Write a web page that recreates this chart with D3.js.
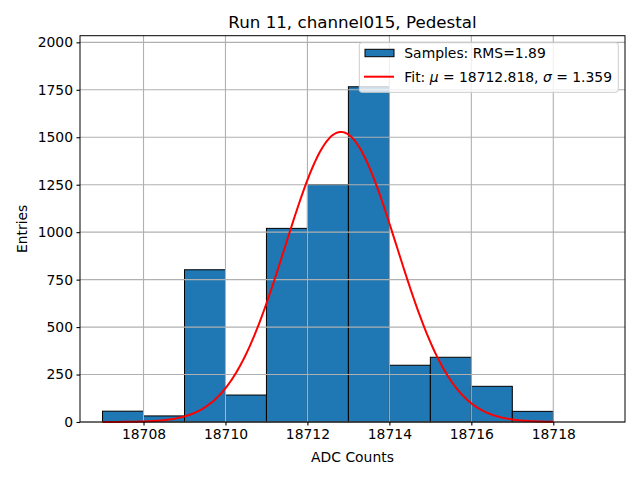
<!DOCTYPE html>
<html><head><meta charset="utf-8">
<script src="https://cdn.jsdelivr.net/npm/d3@7"></script>
<style>body{margin:0;background:#fff}svg{display:block;font-family:"DejaVu Sans",sans-serif}</style>
</head><body><svg id="c" width="640" height="480"></svg>
<script>
const binEdges = [18707,18708,18709,18710,18711,18712,18713,18714,18715,18716,18717,18718];
const counts = [57,32,802,142,1020,1251,1766,299,341,188,56];
const fitMu = 18712.818, fitSigma = 1.359, fitAmp = 1528;
const xTicks = [18708,18710,18712,18714,18716,18718];
const yTicks = [0,250,500,750,1000,1250,1500,1750,2000];
const title = "Run 11, channel015, Pedestal";

const svg = d3.select("#c");
const L=80,R=625,T=35.7,B=422;
const x = d3.scaleLinear().domain([18706.45,18719.75]).range([L,R]);
const y = d3.scaleLinear().domain([0,2035]).range([B,T]);

const bins = counts.map((c,i)=>({x0:binEdges[i],x1:binEdges[i+1],v:c}));
svg.append("g").selectAll("rect").data(bins).join("rect")
  .attr("x",d=>x(d.x0)).attr("width",d=>x(d.x1)-x(d.x0))
  .attr("y",d=>y(d.v)).attr("height",d=>y(0)-y(d.v))
  .attr("fill","#1f77b4").attr("stroke","#000").attr("stroke-width",1);

// grid (above bars, like matplotlib)
const g = svg.append("g");
g.selectAll("line.gx").data(xTicks).join("line").attr("class","gx")
  .attr("x1",d=>x(d)).attr("x2",d=>x(d)).attr("y1",T).attr("y2",B)
  .attr("stroke","#b0b0b0").attr("stroke-width",1.1);
g.selectAll("line.gy").data(yTicks).join("line").attr("class","gy")
  .attr("y1",d=>y(d)).attr("y2",d=>y(d)).attr("x1",L).attr("x2",R)
  .attr("stroke","#b0b0b0").attr("stroke-width",1.1);

// fit curve
const pts = d3.range(0,301).map(i=>{const xv=binEdges[0]+(binEdges[binEdges.length-1]-binEdges[0])*i/300;
  return [xv, fitAmp*Math.exp(-0.5*((xv-fitMu)/fitSigma)**2)];});
svg.append("path").datum(pts).attr("fill","none").attr("stroke","red").attr("stroke-width",2)
  .attr("d",d3.line().x(d=>x(d[0])).y(d=>y(d[1])));

// axes
const xa = svg.append("g").attr("transform",`translate(0,${B})`)
  .call(d3.axisBottom(x).tickValues(xTicks).tickFormat(d3.format("d")).tickSize(3.5).tickPadding(3.5));
const ya = svg.append("g").attr("transform",`translate(${L},0)`)
  .call(d3.axisLeft(y).tickValues(yTicks).tickFormat(d3.format("d")).tickSize(3.5).tickPadding(3.5));
[xa,ya].forEach(a=>{a.select(".domain").remove();a.selectAll("text").attr("font-size","13.9px").attr("fill","#000").attr("font-family","DejaVu Sans");a.selectAll("line").attr("stroke","#000").attr("stroke-width",1.1);});
svg.append("rect").attr("x",L).attr("y",T).attr("width",R-L).attr("height",B-T)
  .attr("fill","none").attr("stroke","#000").attr("stroke-width",1);

// labels
svg.append("text").attr("x",(L+R)/2).attr("y",27.5).attr("text-anchor","middle").attr("font-size","16.7px").text(title);
svg.append("text").attr("x",(L+R)/2).attr("y",462).attr("text-anchor","middle").attr("font-size","13.9px").text("ADC Counts");
svg.append("text").attr("transform",`translate(27,${(T+B)/2}) rotate(-90)`).attr("text-anchor","middle").attr("font-size","13.9px").text("Entries");

// legend
const lg = svg.append("g");
lg.append("rect").attr("x",359.3).attr("y",42.7).attr("width",259).attr("height",49.6).attr("rx",2.5)
  .attr("fill","#fff").attr("fill-opacity",0.8).attr("stroke","#cccccc").attr("stroke-width",1);
lg.append("rect").attr("x",365).attr("y",49.3).attr("width",29).attr("height",7.4)
  .attr("fill","#1f77b4").attr("stroke","#000").attr("stroke-width",1);
lg.append("line").attr("x1",364).attr("x2",394).attr("y1",76.7).attr("y2",76.7).attr("stroke","red").attr("stroke-width",2);
lg.append("text").attr("x",404.3).attr("y",58).attr("font-size","13.9px").text("Samples: RMS=1.89");
const t2 = lg.append("text").attr("x",404.3).attr("y",82).attr("font-size","13.9px");
t2.append("tspan").text("Fit: ");
t2.append("tspan").attr("font-style","italic").text("μ");
t2.append("tspan").text(" = "+fitMu.toFixed(3)+", ");
t2.append("tspan").attr("font-style","italic").text("σ");
t2.append("tspan").text(" = "+fitSigma.toFixed(3));
</script></body></html>
